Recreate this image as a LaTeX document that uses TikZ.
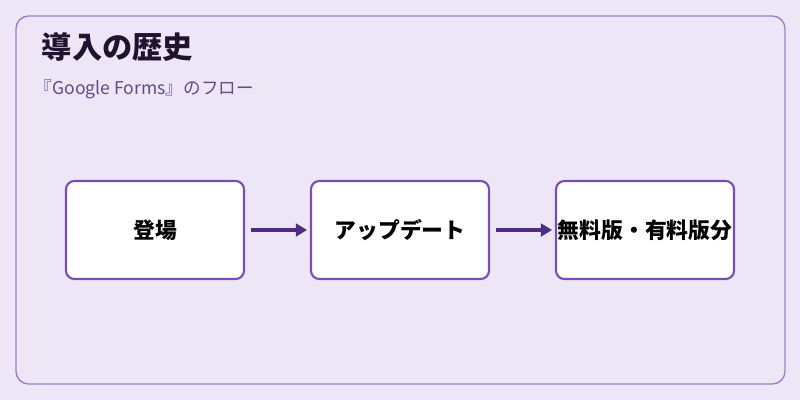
\documentclass[tikz,border=0pt]{standalone}
\usepackage{fontspec}
\setmainfont{Noto Sans CJK JP}
\usetikzlibrary{positioning,arrows.meta}
\definecolor{bgpurple}{HTML}{EDE6F6}
\definecolor{framepurple}{HTML}{9C7FD2}
\definecolor{boxpurple}{HTML}{7A4DB5}
\definecolor{arrowpurple}{HTML}{4E2C84}
\definecolor{subpurple}{HTML}{5F4E85}
\definecolor{titleink}{HTML}{1F1430}
\begin{document}
\begin{tikzpicture}[x=0.025cm,y=-0.025cm,
  stage/.style={draw=boxpurple,line width=1.5pt,fill=white,rounded corners=6pt,
    minimum width=4.45cm,minimum height=2.45cm,font=\bfseries\fontsize{15.5}{18}\selectfont,inner sep=0pt},
  flow/.style={draw=arrowpurple,line width=2.2pt,-{Triangle[length=8pt,width=9pt]}}]
  \useasboundingbox[fill=bgpurple] (0,0) rectangle (800,400);
  \draw[framepurple,line width=1pt,rounded corners=9pt,fill=bgpurple] (16,16) rectangle (785,384);

  \node[anchor=west,text=titleink,font=\bfseries\fontsize{21.5}{24}\selectfont] (title) at (37,47) {導入の歴史};
  \node[anchor=west,text=subpurple,font=\fontsize{12.5}{14}\selectfont] (subtitle) at (30,89) {『Google Forms』のフロー};

  \node[stage] (debut) at (155,230) {登場};
  \node[stage] (update) at (400,230) {アップデート};
  \node[stage] (plans) at (645,230) {無料版・有料版分};

  \draw[flow] ([xshift=4pt]debut.east) -- ([xshift=-2pt]update.west);
  \draw[flow] ([xshift=4pt]update.east) -- ([xshift=-2pt]plans.west);
\end{tikzpicture}
\end{document}
